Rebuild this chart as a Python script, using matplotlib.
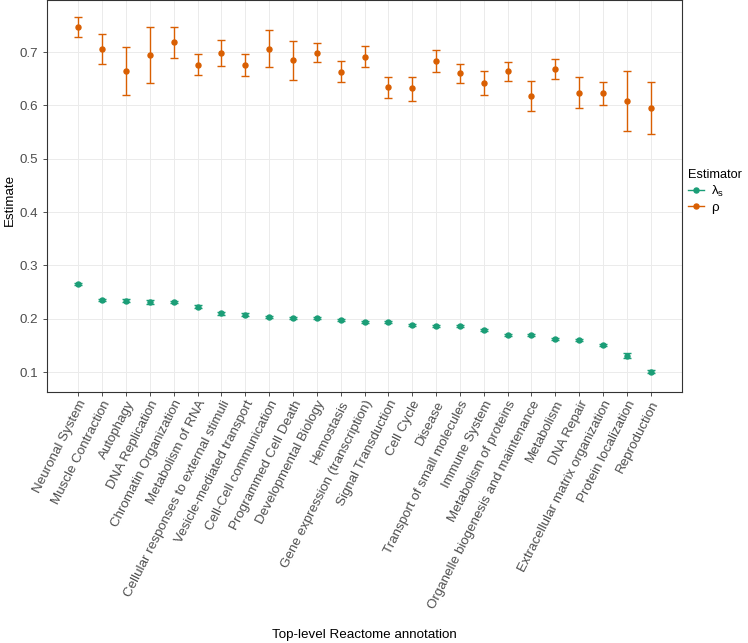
import numpy as np
import matplotlib.pyplot as plt
from matplotlib.lines import Line2D

plt.rcParams['font.family'] = ['Liberation Sans', 'DejaVu Sans']

categories = ["Neuronal System", "Muscle Contraction", "Autophagy", "DNA Replication",
              "Chromatin Organization", "Metabolism of RNA",
              "Cellular responses to external stimuli", "Vesicle-mediated transport",
              "Cell-Cell communication", "Programmed Cell Death", "Developmental Biology",
              "Hemostasis", "Gene expression (transcription)", "Signal Transduction",
              "Cell Cycle", "Disease", "Transport of small molecules", "Immune System",
              "Metabolism of proteins", "Organelle biogenesis and maintenance", "Metabolism",
              "DNA Repair", "Extracellular matrix organization", "Protein localization",
              "Reproduction"]

# rho estimates with lower / upper bounds
rho = [0.746, 0.705, 0.664, 0.694, 0.718, 0.676, 0.699, 0.676, 0.706, 0.685, 0.699,
       0.663, 0.691, 0.634, 0.632, 0.683, 0.660, 0.641, 0.664, 0.617, 0.668, 0.624,
       0.623, 0.609, 0.595]
rho_lo = [0.728, 0.677, 0.619, 0.641, 0.688, 0.656, 0.674, 0.655, 0.672, 0.647, 0.681,
          0.643, 0.671, 0.614, 0.609, 0.662, 0.642, 0.619, 0.645, 0.589, 0.649, 0.595,
          0.601, 0.552, 0.546]
rho_hi = [0.765, 0.733, 0.709, 0.747, 0.746, 0.697, 0.722, 0.697, 0.741, 0.721, 0.716,
          0.683, 0.711, 0.654, 0.654, 0.703, 0.678, 0.664, 0.682, 0.646, 0.686, 0.654,
          0.644, 0.665, 0.644]

# lambda_s estimates with lower / upper bounds
lam = [0.265, 0.236, 0.234, 0.232, 0.231, 0.223, 0.210, 0.208, 0.204, 0.202, 0.201,
       0.198, 0.194, 0.194, 0.189, 0.186, 0.186, 0.179, 0.170, 0.169, 0.162, 0.160,
       0.151, 0.131, 0.101]
lam_lo = [0.263, 0.234, 0.231, 0.228, 0.229, 0.221, 0.208, 0.206, 0.202, 0.200, 0.199,
          0.196, 0.192, 0.192, 0.187, 0.184, 0.184, 0.177, 0.168, 0.167, 0.160, 0.158,
          0.149, 0.127, 0.098]
lam_hi = [0.267, 0.238, 0.237, 0.236, 0.234, 0.225, 0.212, 0.210, 0.206, 0.204, 0.203,
          0.200, 0.196, 0.196, 0.191, 0.188, 0.188, 0.181, 0.172, 0.171, 0.164, 0.162,
          0.153, 0.135, 0.104]

green = '#1B9E77'
orange = '#D95F02'

fig = plt.figure(figsize=(7.48, 6.43), dpi=100)
ax = fig.add_axes([0.0624, 0.3908, 0.8498, 0.6092])

x = np.arange(len(categories))

def draw(vals, lo, hi, color):
    vals = np.array(vals); lo = np.array(lo); hi = np.array(hi)
    ax.errorbar(x, vals, yerr=[vals - lo, hi - vals], fmt='o', color=color,
                ecolor=color, elinewidth=1.0, capsize=2.7, capthick=1.0,
                markersize=3.6, zorder=3)

draw(lam, lam_lo, lam_hi, green)
draw(rho, rho_lo, rho_hi, orange)

ax.set_xlim(-1.33, len(categories) - 1 + 1.33)
ax.set_ylim(0.0633, 0.7975)
ax.set_yticks([0.1, 0.2, 0.3, 0.4, 0.5, 0.6, 0.7])
ax.set_xticks(x)
ax.set_xticklabels(categories, rotation=63, ha='right', va='top',
                   rotation_mode='anchor')

ax.grid(True, color='#EBEBEB', linewidth=0.7, zorder=0)
ax.set_axisbelow(True)
for s in ax.spines.values():
    s.set_color('#333333')
    s.set_linewidth(0.8)
ax.tick_params(colors='#333333', labelcolor='#4D4D4D', labelsize=9.6,
               length=2.8, width=0.6)
ax.tick_params(axis='y', pad=3.2)
ax.tick_params(axis='x', pad=2)

ax.set_xlabel('Top-level Reactome annotation', fontsize=9.6)
ax.set_ylabel('Estimate', fontsize=9.6)
ax.xaxis.label.set_va('center')
ax.yaxis.label.set_va('center')
ax.xaxis.set_label_coords(0.5, -0.621)
ax.yaxis.set_label_coords(-0.058, 0.49)

handles = [Line2D([], [], color=green, marker='o', markersize=3.6, linewidth=1.0),
           Line2D([], [], color=orange, marker='o', markersize=3.6, linewidth=1.0)]
leg = fig.legend(handles, [r'$\mathregular{\lambda_s}$', r'$\mathregular{\rho}$'],
                 title='Estimator', loc='upper left', bbox_to_anchor=(0.913, 0.745),
                 frameon=False, fontsize=9.6, title_fontsize=9.2, handlelength=1.2,
                 handletextpad=0.5, labelspacing=0.2, alignment='left',
                 borderaxespad=0.0)

fig.savefig('out.png', dpi=100)
